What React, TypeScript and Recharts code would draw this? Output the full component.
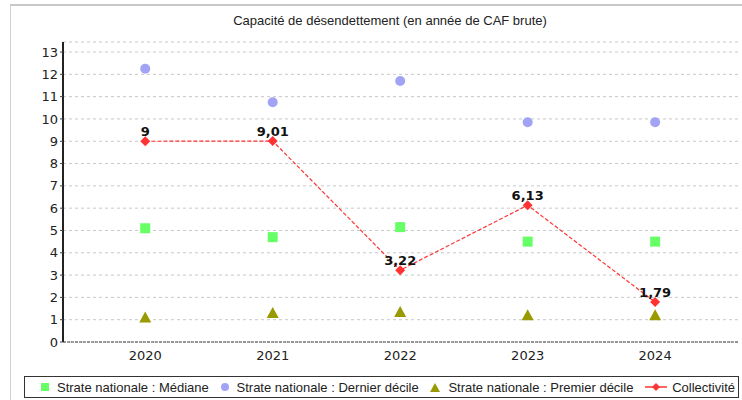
// Capacité de désendettement (années de CAF brute) – nuage + courbe collectivité
import {
  ComposedChart,
  Scatter,
  Line,
  XAxis,
  YAxis,
  CartesianGrid,
  Legend,
  LabelList,
} from "recharts";

const YEARS = [2020, 2021, 2022, 2023, 2024];
const MEDIANE = [5.1, 4.7, 5.15, 4.5, 4.5];
const DERNIER_DECILE = [12.25, 10.75, 11.7, 9.85, 9.85];
const PREMIER_DECILE = [1.1, 1.3, 1.35, 1.2, 1.2];
const COLLECTIVITE = [9, 9.01, 3.22, 6.13, 1.79];
const Y_TICKS = [0, 1, 2, 3, 4, 5, 6, 7, 8, 9, 10, 11, 12, 13];

const data = YEARS.map((year, i) => ({
  year,
  mediane: MEDIANE[i],
  dernier: DERNIER_DECILE[i],
  premier: PREMIER_DECILE[i],
  collectivite: COLLECTIVITE[i],
}));

const GREEN = "#66ff66";
const BLUE = "#a3a3f5";
const OLIVE = "#999900";
const RED = "#ff3333";

// formes des marqueurs
const Square = (p: any) => (
  <rect x={p.cx - 5} y={p.cy - 5} width={10} height={10} fill={GREEN} />
);
const Circle = (p: any) => <circle cx={p.cx} cy={p.cy} r={5} fill={BLUE} />;
const Triangle = (p: any) => (
  <polygon
    points={`${p.cx},${p.cy - 6} ${p.cx + 6},${p.cy + 5} ${p.cx - 6},${p.cy + 5}`}
    fill={OLIVE}
  />
);
const Diamond = (p: any) => (
  <polygon
    points={`${p.cx},${p.cy - 5} ${p.cx + 5},${p.cy} ${p.cx},${p.cy + 5} ${p.cx - 5},${p.cy}`}
    fill={RED}
  />
);

function LegendBox() {
  const item = { display: "flex", alignItems: "center", gap: 8 } as const;
  return (
    <div
      style={{
        display: "flex",
        justifyContent: "space-between",
        alignItems: "center",
        border: "1px solid #333",
        height: 22,
        padding: "0 3px 0 16px",
        fontFamily: "'Liberation Sans', Arial, sans-serif",
        fontSize: 13,
        color: "#222",
        boxSizing: "border-box",
        whiteSpace: "nowrap",
      }}
    >
      <span style={item}>
        <svg width={8} height={8}><rect width={8} height={8} fill={GREEN} /></svg>
        Strate nationale : Médiane
      </span>
      <span style={item}>
        <svg width={8} height={8}><circle cx={4} cy={4} r={4} fill={BLUE} /></svg>
        Strate nationale : Dernier décile
      </span>
      <span style={item}>
        <svg width={10} height={9}><polygon points="5,0 10,9 0,9" fill={OLIVE} /></svg>
        Strate nationale : Premier décile
      </span>
      <span style={{ ...item, gap: 5 }}>
        <svg width={22} height={10}>
          <line x1={0} y1={5} x2={22} y2={5} stroke={RED} strokeWidth={1.5} />
          <polygon points="11,1 15,5 11,9 7,5" fill={RED} />
        </svg>
        Collectivité
      </span>
    </div>
  );
}

export default function App() {
  const fmt = (v: any) => String(v).replace(".", ",");
  return (
    <div
      style={{
        position: "absolute",
        left: 0,
        top: 0,
        width: 742,
        height: 400,
        background: "#fff",
        overflow: "hidden",
      }}
    >
      {/* cadre gris du panneau */}
      <div
        style={{
          position: "absolute",
          left: 10,
          top: 4,
          width: 740,
          height: 400,
          borderTop: "2px solid #c8c8c8",
          borderLeft: "1px solid #d0d0d0",
        }}
      />
      <div
        style={{
          position: "absolute",
          top: 13,
          left: 0,
          width: 780,
          textAlign: "center",
          fontFamily: "'Liberation Sans', Arial, sans-serif",
          fontSize: 13,
          color: "#222",
        }}
      >
        Capacité de désendettement (en année de CAF brute)
      </div>
      <ComposedChart
        width={742}
        height={400}
        data={data}
        margin={{ top: 42, right: 4, bottom: 0, left: 20 }}
        style={{ position: "absolute", left: 0, top: 0 }}
      >
        <CartesianGrid
          horizontal
          vertical={false}
          stroke="#c8c8c8"
          strokeDasharray="3 3"
        />
        <XAxis
          dataKey="year"
          type="number"
          domain={[2019.355, 2024.65]}
          ticks={YEARS}
          height={36}
          tickLine={false}
          axisLine={{ stroke: "#444", strokeDasharray: "3 1" }}
          tick={{ fill: "#222", fontSize: 13, fontFamily: "DejaVu Sans" }}
          tickMargin={3}
        />
        <YAxis
          type="number"
          domain={[0, 13.45]}
          ticks={Y_TICKS}
          width={43}
          interval={0}
          axisLine={{ stroke: "#222", strokeWidth: 2 }}
          tickLine={{ stroke: "#444" }}
          tickSize={3}
          tick={{ fill: "#222", fontSize: 13, fontFamily: "DejaVu Sans" }}
        />
        <Scatter dataKey="mediane" shape={Square} isAnimationActive={false} />
        <Scatter dataKey="dernier" shape={Circle} isAnimationActive={false} />
        <Scatter dataKey="premier" shape={Triangle} isAnimationActive={false} />
        <Line
          dataKey="collectivite"
          type="linear"
          stroke={RED}
          strokeWidth={1.2}
          strokeDasharray="4 2"
          dot={Diamond}
          activeDot={false}
          isAnimationActive={false}
        >
          <LabelList
            dataKey="collectivite"
            position="top"
            offset={5}
            formatter={fmt}
            style={{
              fill: "#111",
              fontSize: 13,
              fontWeight: "bold",
              fontFamily: "DejaVu Sans",
            }}
          />
        </Line>
        <Legend
          verticalAlign="bottom"
          content={() => <LegendBox />}
          wrapperStyle={{ left: 24, width: 715, bottom: 2 }}
        />
      </ComposedChart>
    </div>
  );
}
